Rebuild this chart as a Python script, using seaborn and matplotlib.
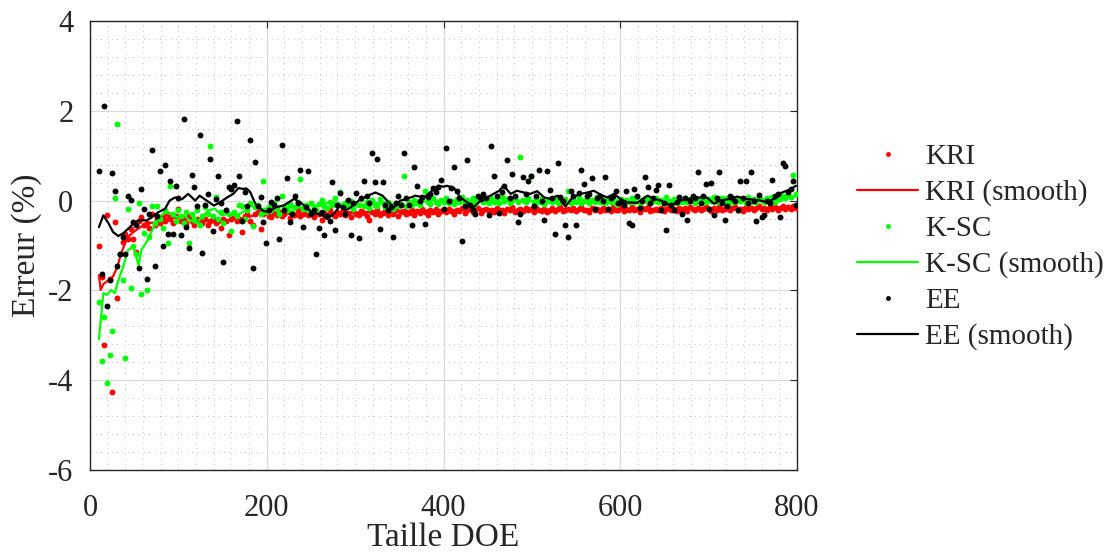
import numpy as np
import pandas as pd
import matplotlib
matplotlib.use("Agg")
import matplotlib.pyplot as plt
from matplotlib.lines import Line2D
from matplotlib.ticker import MultipleLocator
import seaborn as sns

# DOE sizes: 10, 13, ..., 799
doe_size = np.arange(10, 800, 3)

# Relative error (%) per DOE size (10 values per row = 30 DOE units)
kri_err = [
    -1.01, -1.70, -3.22, -0.33, -1.75, -4.26, -0.48, -2.16, -1.20, -0.92,
    -0.75, -0.85, -0.63, -0.85, -1.14, -0.45, -0.37, -0.55, -0.50, -0.60,
    -0.30, -0.55, -0.40, -0.50, -0.35, -0.45, -0.30, -0.40, -0.50, -0.35,
    -0.18, -0.45, -0.40, -0.50, -0.35, -0.45, -0.55, -0.40, -0.45, -0.50,
    -0.40, -0.55, -0.45, -0.40, -0.50, -0.45, -0.60, -0.40, -0.45, -0.77,
    -0.40, -0.35, -0.45, -0.40, -0.71, -0.35, -0.30, -0.45, -0.55, -0.30,
    -0.25, -0.63, -0.30, -0.25, -0.35, -0.37, -0.28, -0.32, -0.26, -0.35,
    -0.30, -0.24, -0.38, -0.27, -0.31, -0.22, -0.34, -0.29, -0.25, -0.33,
    -0.28, -0.36, -0.24, -0.30, -0.44, -0.27, -0.33, -0.21, -0.29, -0.35,
    -0.25, -0.30, -0.22, -0.32, -0.27, -0.36, -0.24, -0.29, -0.31, -0.23,
    -0.28, -0.35, -0.44, -0.26, -0.30, -0.22, -0.33, -0.27, -0.24, -0.31,
    -0.25, -0.29, -0.21, -0.34, -0.26, -0.23, -0.30, -0.27, -0.20, -0.32,
    -0.24, -0.28, -0.19, -0.26, -0.31, -0.22, -0.25, -0.18, -0.29, -0.23,
    -0.21, -0.26, -0.18, -0.24, -0.29, -0.20, -0.23, -0.17, -0.27, -0.22,
    -0.19, -0.25, -0.21, -0.16, -0.28, -0.22, -0.18, -0.24, -0.20, -0.26,
    -0.17, -0.23, -0.21, -0.27, -0.18, -0.22, -0.15, -0.25, -0.20, -0.19,
    -0.24, -0.17, -0.22, -0.19, -0.26, -0.16, -0.21, -0.23, -0.18, -0.25,
    -0.20, -0.16, -0.23, -0.19, -0.14, -0.24, -0.21, -0.18, -0.22, -0.17,
    -0.23, -0.19, -0.15, -0.22, -0.20, -0.25, -0.17, -0.21, -0.18, -0.24,
    -0.16, -0.21, -0.19, -0.23, -0.15, -0.20, -0.22, -0.17, -0.24, -0.18,
    -0.20, -0.15, -0.22, -0.18, -0.25, -0.17, -0.19, -0.14, -0.23, -0.20,
    -0.18, -0.22, -0.16, -0.24, -0.19, -0.15, -0.21, -0.18, -0.23, -0.16,
    -0.20, -0.17, -0.24, -0.15, -0.19, -0.22, -0.16, -0.21, -0.18, -0.14,
    -0.19, -0.23, -0.16, -0.20, -0.15, -0.22, -0.18, -0.13, -0.21, -0.17,
    -0.15, -0.20, -0.18, -0.23, -0.14, -0.19, -0.16, -0.21, -0.17, -0.13,
    -0.19, -0.16, -0.22, -0.14, -0.18, -0.15, -0.20, -0.17, -0.13, -0.19,
    -0.15, -0.18, -0.12, -0.17,
]

ksc_err = [
    -2.25, -3.58, -2.60, -4.06, -3.44, -2.90, 0.06, 1.70, -1.20, -1.77,
    -3.50, -0.18, -1.95, -1.00, -1.20, -0.06, -2.09, -0.72, -2.00, -0.80,
    -0.13, -0.50, -0.11, -0.40, -0.60, -0.20, -0.94, 0.33, -0.30, -0.45,
    -0.20, -0.35, -0.50, -0.25, -0.94, -0.30, -0.40, -0.20, -0.55, -0.35,
    -0.15, -0.30, 1.22, -0.35, 0.07, -0.40, -0.25, -0.50, -0.20, -0.30,
    -0.67, -0.25, -0.35, -0.10, -0.11, -0.40, -0.20, -0.05, -0.57, -0.15,
    -0.10, -0.30, 0.44, -0.25, -0.15, -0.20, -0.05, -0.18, -0.30, 0.11,
    -0.12, -0.20, -0.08, -0.25, -0.15, -0.02, 0.48, -0.18, -0.10, -0.22,
    -0.05, -0.14, -0.20, -0.08, 0.02, -0.12, -0.16, -0.03, -0.10, 0.05,
    -0.08, 0.19, -0.15, -0.05, -0.12, 0.00, -0.18, -0.07, -0.10, 0.03,
    -0.12, -0.04, -0.16, 0.02, -0.09, -0.13, 0.04, -0.06, -0.15, -0.02,
    -0.10, -0.18, -0.05, -0.13, -0.08, 0.55, -0.12, -0.02, -0.09, 0.01,
    -0.06, -0.10, 0.03, 0.22, -0.04, -0.08, 0.05, -0.02, -0.07, 0.02,
    -0.03, 0.06, -0.05, 0.00, -0.08, 0.04, -0.02, 0.07, -0.06, 0.01,
    -0.04, 0.05, -0.07, 0.02, 0.08, -0.03, 0.00, -0.06, 0.06, -0.02,
    0.03, -0.05, 0.07, -0.01, 0.04, -0.06, 0.02, 0.09, -0.04, 0.97,
    0.01, -0.03, 0.05, 0.55, -0.05, 0.03, -0.02, 0.06, -0.07, 0.00,
    0.04, -0.04, 0.01, -0.06, 0.05, -0.02, 0.03, 0.22, -0.05, 0.02,
    -0.03, 0.06, -0.06, 0.00, 0.04, -0.05, 0.02, -0.03, 0.07, -0.04,
    0.01, -0.06, 0.04, -0.02, 0.05, -0.07, 0.00, 0.03, -0.05, 0.02,
    -0.04, 0.05, -0.02, 0.08, -0.05, 0.01, 0.06, -0.03, 0.04, -0.01,
    0.05, -0.04, 0.02, -0.06, 0.07, 0.00, -0.03, 0.04, -0.05, 0.03,
    -0.02, 0.06, -0.04, 0.03, 0.08, -0.05, 0.01, -0.02, 0.05, -0.03,
    0.04, -0.01, 0.07, -0.04, 0.02, 0.05, -0.03, 0.06, -0.02, 0.01,
    -0.04, 0.05, 0.00, 0.03, -0.05, 0.07, -0.02, 0.04, -0.03, 0.06,
    0.01, -0.04, 0.05, 0.02, 0.08, -0.02, 0.06, 0.03, 0.10, 0.05,
    0.12, 0.08, 0.57, 0.14,
]

ee_err = [
    0.65, -1.64, 2.10, -2.34, -1.77, 0.62, 0.22, -1.46, -1.19, -0.80,
    -1.19, 0.10, 0.01, -0.48, -0.55, -1.49, 0.25, -0.18, -1.75, -0.30,
    1.13, -1.46, -0.35, 0.66, -1.01, 0.80, -0.75, 0.44, -0.74, 0.33,
    0.05, -0.77, 1.82, -0.59, -1.05, 0.56, 0.30, -0.11, 1.46, -1.16,
    -0.10, 0.15, 0.92, -0.68, 0.04, 0.55, -0.05, -1.36, -0.20, 0.30,
    0.26, 0.35, 1.78, 0.55, -0.46, 0.20, -0.11, 1.36, -1.51, 0.85,
    -0.13, 0.07, -0.48, -0.94, -0.20, -0.04, -0.10, 0.05, -0.85, 1.23,
    -0.22, 0.50, -0.48, -0.29, 0.10, -0.05, 0.68, -0.59, -0.15, 0.65,
    -0.29, -0.20, -1.19, -0.60, -0.25, -0.77, -0.35, -0.46, 0.41, -0.65,
    -0.10, 0.16, -0.15, -0.30, 0.01, -0.76, -0.05, 0.16, -0.83, 0.05,
    0.44, 0.10, -0.05, 1.05, 0.42, 0.92, -0.63, 0.42, -0.10, -0.20,
    -0.15, -0.82, -0.05, 0.10, -0.10, 1.05, 0.05, -0.10, -0.55, 0.75,
    0.33, 0.00, 0.07, -0.52, 0.07, 0.15, 0.28, 0.20, 0.30, 0.46,
    -0.18, 1.17, 0.00, 0.28, 0.75, 0.22, 0.05, -0.89, -0.11, 0.91,
    -0.10, -0.20, -0.29, 0.10, 0.04, 0.15, 0.05, -0.33, 1.22, 0.54,
    0.10, -0.27, 0.20, 0.32, 0.91, 0.05, 0.59, 0.10, -0.47, -0.29,
    0.52, 0.15, 0.44, 0.54, -0.13, 0.10, 0.68, 0.00, -0.44, 0.66,
    0.24, 0.05, -0.74, 0.83, 0.07, 0.00, -0.54, -0.81, 0.22, 0.10,
    -0.54, 0.18, 0.68, 0.37, 0.10, 0.15, 0.50, -0.18, 0.05, 0.10,
    0.00, 0.53, -0.18, 0.05, 0.10, 0.22, -0.05, -0.04, -0.10, 0.22,
    -0.50, -0.55, 0.26, 0.10, -0.16, 0.00, 0.52, 0.31, -0.05, 0.05,
    0.24, 0.35, -0.22, -0.05, -0.66, 0.35, -0.10, -0.22, -0.02, 0.07,
    -0.29, 0.05, -0.43, 0.00, 0.11, 0.05, 0.64, -0.05, 0.10, 0.38,
    -0.18, 0.40, -0.33, 0.05, 0.63, -0.05, -0.44, -0.11, 0.10, 0.05,
    0.00, -0.22, 0.43, 0.05, 0.43, -0.05, 0.64, 0.00, -0.46, 0.13,
    -0.37, -0.33, 0.00, -0.05, 0.46, 0.10, 0.15, -0.37, 0.83, 0.76,
    0.20, 0.25, 0.44, -0.09,
]

# Smoothed curves
kri_smooth_x = [10, 12, 15, 21, 26, 31, 34, 40, 43, 49, 57, 64, 75, 87, 98, 109, 124, 140,
                155, 170, 180, 192, 205, 220, 235, 250, 265, 280, 295, 310, 325, 340, 355,
                370, 385, 400, 420, 440, 460, 480, 500, 520, 540, 560, 580, 600, 620, 640,
                660, 680, 700, 720, 740, 760, 780, 799]
kri_smooth_y = [-1.66, -1.99, -1.86, -1.77, -1.69, -1.47, -1.25, -0.92, -0.81, -0.70, -0.59,
                -0.51, -0.48, -0.40, -0.37, -0.40, -0.44, -0.48, -0.44, -0.40, -0.36, -0.29,
                -0.33, -0.30, -0.28, -0.30, -0.31, -0.27, -0.28, -0.25, -0.27, -0.24, -0.22,
                -0.24, -0.21, -0.22, -0.20, -0.21, -0.19, -0.21, -0.19, -0.20, -0.18, -0.20,
                -0.18, -0.19, -0.17, -0.19, -0.17, -0.18, -0.16, -0.18, -0.16, -0.17, -0.15,
                -0.16]

ksc_smooth_x = [10, 15, 19, 24, 28, 32, 38, 43, 49, 55, 58, 64, 72, 79, 85, 90, 98, 106, 113,
                121, 126, 134, 141, 149, 157, 164, 173, 181, 192, 200, 210, 219, 228, 238,
                248, 257, 266, 276, 285, 295, 304, 314, 323, 333, 342, 351, 361, 370, 380,
                389, 400, 410, 420, 435, 450, 465, 480, 495, 510, 525, 540, 555, 570, 585,
                600, 615, 630, 645, 660, 675, 690, 705, 720, 735, 750, 765, 780, 790, 799]
ksc_smooth_y = [-3.09, -2.06, -2.10, -1.99, -2.06, -1.77, -1.44, -1.10, -1.03, -1.44, -1.10,
                -0.92, -0.59, -0.37, -0.26, -0.29, -0.37, -0.33, -0.44, -0.51, -0.37, -0.22,
                -0.18, -0.33, -0.29, -0.33, -0.26, -0.11, -0.18, -0.18, -0.14, -0.11, -0.16,
                -0.15, -0.10, -0.11, -0.06, -0.04, -0.08, -0.07, -0.10, -0.09, -0.05, -0.07,
                -0.12, -0.15, -0.08, -0.04, -0.02, 0.00, -0.01, 0.00, -0.03, -0.02, 0.01,
                -0.03, 0.01, -0.01, 0.00, -0.03, -0.02, -0.04, -0.03, -0.05, -0.04, -0.05,
                -0.03, 0.00, -0.02, 0.00, 0.01, -0.02, 0.00, -0.01, 0.01, -0.03, 0.03, 0.05,
                0.10]

ee_smooth_x = [10, 15, 21, 26, 32, 38, 45, 49, 55, 64, 70, 77, 85, 90, 96, 104, 111, 119,
               124, 132, 140, 147, 155, 162, 168, 173, 177, 181, 187, 195, 202, 210, 219,
               231, 240, 251, 263, 268, 276, 283, 289, 295, 304, 314, 323, 331, 336, 344,
               351, 359, 368, 378, 387, 395, 400, 404, 412, 419, 427, 434, 442, 453, 463,
               468, 476, 483, 491, 498, 506, 514, 521, 529, 538, 546, 555, 563, 570, 578,
               585, 593, 600, 608, 619, 631, 638, 646, 657, 668, 678, 687, 698, 706, 713,
               725, 732, 742, 751, 759, 766, 774, 783, 791, 799]
ee_smooth_y = [-0.59, -0.33, -0.51, -0.70, -0.79, -0.72, -0.59, -0.51, -0.44, -0.44, -0.37,
               -0.26, -0.18, 0.00, 0.07, 0.03, 0.15, 0.00, 0.11, 0.00, -0.11, -0.04, 0.07,
               0.15, 0.28, 0.26, 0.27, 0.20, -0.07, -0.22, -0.26, -0.15, -0.11, 0.04, -0.07,
               -0.26, -0.33, -0.41, -0.29, -0.11, -0.22, -0.15, 0.00, 0.11, 0.18, 0.11, 0.00,
               -0.15, 0.00, 0.04, 0.11, 0.07, 0.22, 0.33, 0.31, 0.33, 0.28, 0.07, -0.04,
               -0.15, 0.00, 0.11, 0.22, 0.33, 0.15, 0.22, 0.18, 0.15, 0.21, 0.07, 0.04, 0.11,
               -0.13, 0.07, 0.15, 0.18, 0.22, 0.13, 0.07, 0.15, 0.04, -0.04, -0.05, 0.11,
               0.04, 0.00, -0.11, 0.00, 0.04, 0.07, 0.07, -0.07, 0.00, 0.04, 0.09, 0.04,
               0.02, 0.00, -0.04, 0.04, 0.18, 0.24, 0.33]

series_names = ["KRI", "K-SC", "EE"]
series_colors = {"KRI": "#ff0000", "K-SC": "#00ff00", "EE": "#000000"}


def main():
    sns.set_theme(style="white")
    plt.rcParams["font.family"] = ["Liberation Serif", "DejaVu Serif"]
    plt.rcParams["axes.unicode_minus"] = False

    fig = plt.figure(figsize=(11.12, 5.56), dpi=100)
    ax = fig.add_axes([0.081, 0.1547, 0.6357, 0.8075])

    points = {"KRI": kri_err, "K-SC": ksc_err, "EE": ee_err}
    smooth = {
        "KRI": (kri_smooth_x, kri_smooth_y),
        "K-SC": (ksc_smooth_x, ksc_smooth_y),
        "EE": (ee_smooth_x, ee_smooth_y),
    }

    z = 3
    for name in series_names:
        col = series_colors[name]
        df = pd.DataFrame({"doe": doe_size, "err": points[name]})
        sns.scatterplot(data=df, x="doe", y="err", ax=ax, color=col, s=18,
                        linewidth=0, legend=False, zorder=z)
        sx, sy = smooth[name]
        dfs = pd.DataFrame({"doe": sx, "err": sy})
        sns.lineplot(data=dfs, x="doe", y="err", ax=ax, color=col, lw=1.6,
                     estimator=None, sort=False, legend=False, zorder=z + 1)
        z += 2

    ax.set_xlim(0, 800)
    ax.set_ylim(-6, 4)
    ax.xaxis.set_major_locator(MultipleLocator(200))
    ax.xaxis.set_minor_locator(MultipleLocator(20))
    ax.yaxis.set_major_locator(MultipleLocator(2))
    ax.yaxis.set_minor_locator(MultipleLocator(0.4))

    ax.grid(which="major", color="#d9d9d9", lw=0.8, ls="-")
    ax.grid(which="minor", color="#c4c4c4", lw=0.7, ls=(0, (1, 4.5)))
    ax.set_axisbelow(True)

    for sp in ax.spines.values():
        sp.set_color("#262626")
        sp.set_linewidth(1.0)
        sp.set_visible(True)

    ax.tick_params(which="major", direction="in", length=5, width=0.8,
                   top=True, right=True, colors="#262626", labelsize=22)
    ax.tick_params(axis="x", pad=17)
    ax.tick_params(axis="y", pad=12)
    ax.tick_params(which="minor", length=0)

    ax.set_xlabel("Taille DOE", fontsize=24, color="#262626", labelpad=0)
    ax.set_ylabel("Erreur (%)", fontsize=24, color="#262626", labelpad=4)

    handles = []
    labels = []
    for name in series_names:
        col = series_colors[name]
        handles.append(Line2D([], [], ls="none", marker="o", markersize=3.5,
                              markerfacecolor=col, markeredgewidth=0))
        labels.append(name)
        handles.append(Line2D([], [], color=col, lw=1.6))
        labels.append(f"{name} (smooth)")

    fig.legend(handles, labels, loc="center left", bbox_to_anchor=(0.7575, 0.556),
               frameon=False, fontsize=21, borderpad=0, handlelength=2.1,
               handletextpad=0.25, labelspacing=0.32, labelcolor="#262626")

    fig.savefig("out.png", dpi=100)


if __name__ == "__main__":
    main()
